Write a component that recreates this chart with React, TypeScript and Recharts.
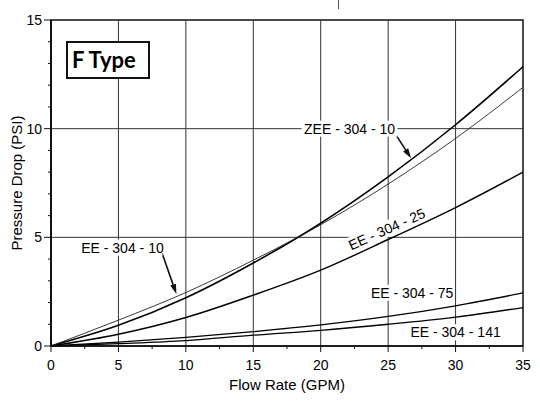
import {
  LineChart,
  Line,
  XAxis,
  YAxis,
  ReferenceLine,
  ReferenceDot,
  ReferenceArea,
  Label,
} from "recharts";

// flow rate (GPM) and pressure drop (PSI) per cartridge
const flow = [0, 5, 10, 15, 20, 25, 30, 35];
const zee30410 = [0, 0.95, 2.22, 3.82, 5.65, 7.78, 10.18, 12.85];
const ee30410 = [0, 1.19, 2.46, 3.95, 5.58, 7.45, 9.55, 11.9];
const ee30425 = [0, 0.54, 1.31, 2.34, 3.49, 4.9, 6.37, 8.0];
const ee30475 = [0, 0.18, 0.4, 0.66, 0.97, 1.36, 1.85, 2.44];
const ee304141 = [0, 0.11, 0.25, 0.5, 0.72, 1.0, 1.33, 1.77];

const xTicks = [0, 2.5, 5, 7.5, 10, 12.5, 15, 17.5, 20, 22.5, 25, 27.5, 30, 32.5, 35];
const yTicks = [0, 1, 2, 3, 4, 5, 6, 7, 8, 9, 10, 11, 12, 13, 14, 15];
const gridX = [5, 10, 15, 20, 25, 30];
const gridY = [5, 10];

const data = flow.map((f, i) => ({
  flow: f,
  zee10: zee30410[i],
  ee10: ee30410[i],
  ee25: ee30425[i],
  ee75: ee30475[i],
  ee141: ee304141[i],
}));

const FONT = "'Liberation Sans', Arial, Helvetica, sans-serif";

const XTick = ({ x, y, payload }: any) => {
  const major = payload.value % 5 === 0;
  return (
    <g>
      <line x1={x} x2={x} y1={y} y2={y + (major ? 6 : 3)} stroke="#111" strokeWidth={1} />
      {major && (
        <text x={x} y={y + 24} textAnchor="middle" fontSize={14} fontFamily={FONT} fill="#000">
          {payload.value}
        </text>
      )}
    </g>
  );
};

const YTick = ({ x, y, payload }: any) => {
  const major = payload.value % 5 === 0;
  return (
    <g>
      <line x1={x} x2={x - (major ? 7 : 3)} y1={y} y2={y} stroke="#111" strokeWidth={1} />
      {major && (
        <text x={x - 9} y={y + 5} textAnchor="end" fontSize={14} fontFamily={FONT} fill="#000">
          {payload.value}
        </text>
      )}
    </g>
  );
};

const callout =
  (text: string, w: number, angle = 0) =>
  (props: any) => {
    const { cx, cy } = props;
    return (
      <g transform={`rotate(${angle} ${cx} ${cy})`}>
        <rect x={cx - w / 2} y={cy - 8} width={w} height={16} fill="#fff" />
        <text
          x={cx}
          y={cy + 5}
          textAnchor="middle"
          fontSize={14}
          fontFamily={FONT}
          fill="#000"
        >
          {text}
        </text>
      </g>
    );
  };

const arrow = (props: any) => {
  const { x1, y1, x2, y2 } = props;
  const a = Math.atan2(y2 - y1, x2 - x1);
  const len = 10;
  const half = 3;
  const bx = x2 - len * Math.cos(a);
  const by = y2 - len * Math.sin(a);
  const px = -Math.sin(a) * half;
  const py = Math.cos(a) * half;
  return (
    <g>
      <line x1={x1} y1={y1} x2={bx} y2={by} stroke="#111" strokeWidth={1.6} />
      <polygon points={`${x2},${y2} ${bx + px},${by + py} ${bx - px},${by - py}`} fill="#111" />
    </g>
  );
};

export default function App() {
  return (
    <div style={{ position: "absolute", left: 0, top: 0, width: 540, height: 402, background: "#fff" }}>
      <LineChart
        width={540}
        height={402}
        data={data}
        margin={{ top: 20, right: 17, left: 0, bottom: 0 }}
      >
        <XAxis
          dataKey="flow"
          type="number"
          domain={[0, 35]}
          ticks={xTicks}
          interval={0}
          height={56}
          tickSize={0}
          tickMargin={0}
          tickLine={false}
          axisLine={{ stroke: "#111", strokeWidth: 1.6 }}
          tick={<XTick />}
        >
          <Label
            value="Flow Rate (GPM)"
            position="insideBottom"
            offset={12}
            style={{ fontSize: 15, fontFamily: FONT, fill: "#000" }}
          />
        </XAxis>
        <YAxis
          type="number"
          domain={[0, 15]}
          ticks={yTicks}
          interval={0}
          width={51}
          tickSize={0}
          tickMargin={0}
          tickLine={false}
          axisLine={{ stroke: "#111", strokeWidth: 2 }}
          tick={<YTick />}
        >
          <Label
            value="Pressure Drop (PSI)"
            angle={-90}
            position="insideLeft"
            dx={12}
            style={{ fontSize: 15, fontFamily: FONT, fill: "#000", textAnchor: "middle" }}
          />
        </YAxis>

        {gridX.map((v) => (
          <ReferenceLine key={"gx" + v} x={v} stroke="#333" strokeWidth={1} />
        ))}
        {gridY.map((v) => (
          <ReferenceLine key={"gy" + v} y={v} stroke="#333" strokeWidth={1} />
        ))}
        <ReferenceArea x1={0} x2={35} y1={0} y2={15} fill="none" stroke="#111" strokeWidth={1.5} />

        <Line dataKey="zee10" type="monotone" stroke="#000" strokeWidth={1.6} dot={false} activeDot={false} isAnimationActive={false} />
        <Line dataKey="ee10" type="monotone" stroke="#222" strokeWidth={0.9} dot={false} activeDot={false} isAnimationActive={false} />
        <Line dataKey="ee25" type="monotone" stroke="#000" strokeWidth={1.4} dot={false} activeDot={false} isAnimationActive={false} />
        <Line dataKey="ee75" type="monotone" stroke="#000" strokeWidth={1.3} dot={false} activeDot={false} isAnimationActive={false} />
        <Line dataKey="ee141" type="monotone" stroke="#000" strokeWidth={1.3} dot={false} activeDot={false} isAnimationActive={false} />

        <ReferenceLine segment={[{ x: 25.45, y: 9.84 }, { x: 26.7, y: 8.64 }]} shape={arrow} />
        <ReferenceLine segment={[{ x: 8.23, y: 4.28 }, { x: 9.3, y: 2.39 }]} shape={arrow} />

        <ReferenceDot x={22.14} y={10} r={1} ifOverflow="visible" shape={callout("ZEE - 304 - 10", 96)} />
        <ReferenceDot x={5.3} y={4.52} r={1} ifOverflow="visible" shape={callout("EE - 304 - 10", 80)} />
        <ReferenceDot x={24.9} y={5.38} r={1} ifOverflow="visible" shape={callout("EE - 304 - 25", 82, -24)} />
        <ReferenceDot x={26.78} y={2.45} r={1} ifOverflow="visible" shape={callout("EE - 304 - 75", 82)} />
        <ReferenceDot x={30.0} y={0.63} r={1} ifOverflow="visible" shape={callout("EE - 304 - 141", 88)} />
      </LineChart>

      <div
        style={{
          position: "absolute",
          left: 66,
          top: 41,
          width: 76,
          height: 34,
          border: "2.5px solid #111",
          background: "#fff",
          fontFamily: "Lato, 'Open Sans', sans-serif",
          fontWeight: 700,
          fontSize: 22,
          lineHeight: "34px",
          paddingLeft: 4,
          color: "#000",
          boxSizing: "content-box",
        }}
      >
        F Type
      </div>
      <div style={{ position: "absolute", left: 338, top: 0, width: 1, height: 9, background: "#555" }} />
    </div>
  );
}
